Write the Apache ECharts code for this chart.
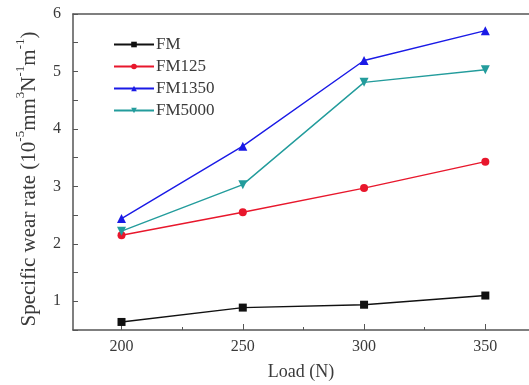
<!DOCTYPE html>
<html><head><meta charset="utf-8">
<script src="https://cdn.jsdelivr.net/npm/echarts@6/dist/echarts.min.js"></script>
<style>html,body{margin:0;padding:0;background:#fff}#c{width:529px;height:385px}</style>
</head><body><div id="c"></div>
<script>
var loads = [200, 250, 300, 350];
var seriesNames = ['FM', 'FM125', 'FM1350', 'FM5000'];
var fm = [0.64, 0.89, 0.94, 1.10];
var fm125 = [2.15, 2.55, 2.97, 3.43];
var fm1350 = [2.44, 3.70, 5.19, 5.71];
var fm5000 = [2.22, 3.03, 4.81, 5.03];
var xLabels = [200, 250, 300, 350];
var xMinorTicks = [225, 275, 325];
var yLabels = [1, 2, 3, 4, 5, 6];
var yTicks = [0.5, 1, 1.5, 2, 2.5, 3, 3.5, 4, 4.5, 5, 5.5, 6];

var font = 'Liberation Serif';
var axisCol = '#555';
var txtCol = '#3a3a3a';
function pairs(v){ return loads.map(function(x,i){ return [x, v[i]]; }); }
var styles = [
  {c:'#111111', s:'rect', size:8, rot:0},
  {c:'#e8172c', s:'circle', size:8, rot:0},
  {c:'#1a1ae6', s:'triangle', size:9, rot:0},
  {c:'#239c9c', s:'triangle', size:9, rot:180}
];
var vals = [fm, fm125, fm1350, fm5000];
var series = seriesNames.map(function(n,i){
  return {name:n, type:'line', xAxisIndex:0, yAxisIndex:0, data:pairs(vals[i]),
    symbol:styles[i].s, symbolSize:styles[i].size, symbolRotate:styles[i].rot,
    lineStyle:{color:styles[i].c, width:1.4}, itemStyle:{color:styles[i].c},
    animation:false, z:3};
});
var chart = echarts.init(document.getElementById('c'));
chart.setOption({
  animation:false,
  grid:{left:73, right:0, top:14, bottom:55, containLabel:false, outerBoundsMode:'none'},
  legend:{orient:'vertical', left:108, top:31, itemWidth:40, itemHeight:7, itemGap:5,
    textStyle:{fontFamily:font, fontSize:17, color:txtCol, padding:[0,0,0,-3]}, data:seriesNames},
  xAxis:[{
    type:'value', min:180, max:368, position:'bottom',
    name:'Load (N)', nameLocation:'middle', nameGap:33,
    nameTextStyle:{fontFamily:font, fontSize:18, color:txtCol},
    axisLine:{show:true, lineStyle:{color:axisCol, width:1.5}},
    axisTick:{show:true, inside:true, length:6, customValues:xLabels, lineStyle:{color:axisCol}},
    axisLabel:{fontFamily:font, fontSize:16, color:txtCol, margin:9, customValues:xLabels},
    splitLine:{show:false}
  },{
    type:'value', min:180, max:368, position:'bottom',
    axisLine:{show:false},
    axisTick:{show:true, inside:true, length:3, customValues:xMinorTicks, lineStyle:{color:axisCol}},
    axisLabel:{show:false},
    splitLine:{show:false}
  },{
    type:'value', min:180, max:368, position:'top',
    axisLine:{show:true, lineStyle:{color:axisCol, width:1.5}},
    axisTick:{show:false}, axisLabel:{show:false}, splitLine:{show:false}
  }],
  yAxis:[{
    type:'value', min:0.5, max:6,
    name:'{n|Specific wear rate (10}{s|-5}{n|mm}{s|3}{n|N}{s|-1}{n|m}{s|-1}{n|)}',
    nameLocation:'middle', nameGap:33, nameRotate:90,
    nameTextStyle:{fontFamily:font, fontSize:21, color:txtCol, padding:[0,14,0,0],
      rich:{n:{fontFamily:font, fontSize:21, color:txtCol, lineHeight:26, verticalAlign:'bottom'},
            s:{fontFamily:font, fontSize:13, color:txtCol, lineHeight:26, verticalAlign:'top', padding:[0,0,10,0]}}},
    axisLine:{show:true, lineStyle:{color:axisCol, width:1.5}},
    axisTick:{show:true, inside:true, length:5, customValues:yTicks, lineStyle:{color:axisCol}},
    axisLabel:{fontFamily:font, fontSize:16, color:txtCol, margin:12, customValues:yLabels},
    splitLine:{show:false}
  }],
  series:series
});
</script></body></html>
